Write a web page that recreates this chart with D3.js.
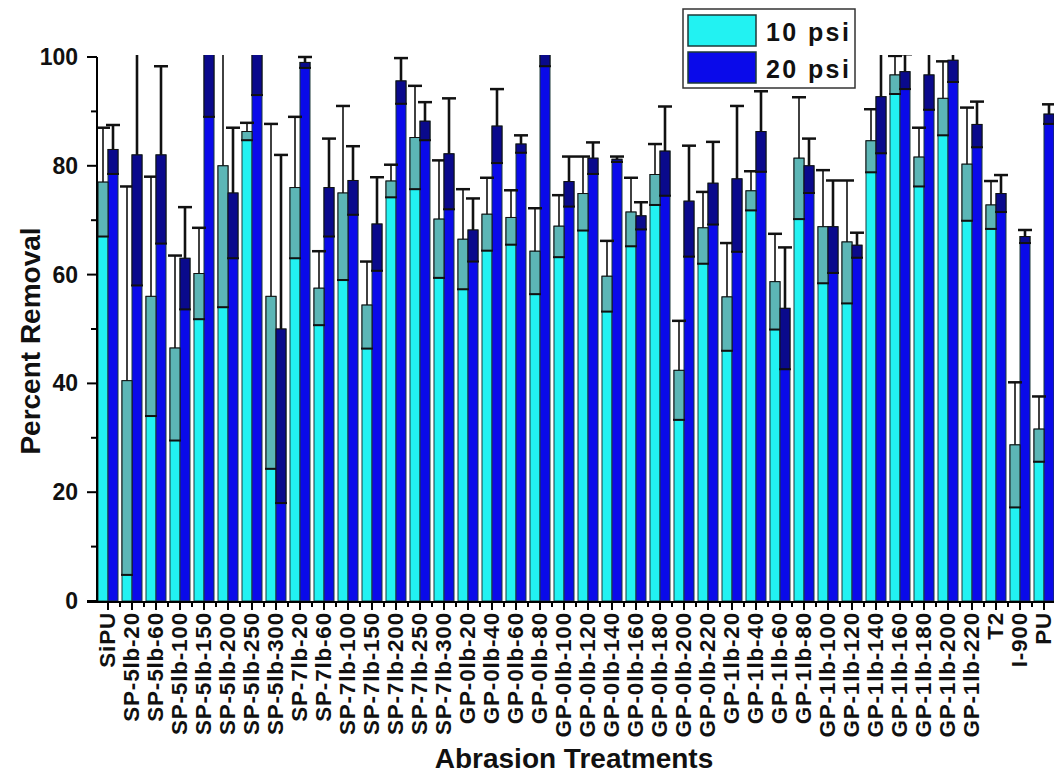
<!DOCTYPE html>
<html>
<head>
<meta charset="utf-8">
<script src="https://cdn.jsdelivr.net/npm/d3@7"></script>
<style>
  body { margin: 0; background: #fff; }
  text { font-family: "Liberation Sans", Arial, sans-serif; font-weight: bold; fill: #111; }
</style>
</head>
<body>
<svg id="chart"></svg>
<script>
// Size of the page
const width = 1054;
const height = 776;

// Data
const categories = ["SiPU", "SP-5lb-20", "SP-5lb-60", "SP-5lb-100", "SP-5lb-150", "SP-5lb-200", "SP-5lb-250", "SP-5lb-300",
    "SP-7lb-20", "SP-7lb-60", "SP-7lb-100", "SP-7lb-150", "SP-7lb-200", "SP-7lb-250", "SP-7lb-300",
    "GP-0lb-20", "GP-0lb-40", "GP-0lb-60", "GP-0lb-80", "GP-0lb-100", "GP-0lb-120", "GP-0lb-140", "GP-0lb-160",
    "GP-0lb-180", "GP-0lb-200", "GP-0lb-220",
    "GP-1lb-20", "GP-1lb-40", "GP-1lb-60", "GP-1lb-80", "GP-1lb-100", "GP-1lb-120", "GP-1lb-140", "GP-1lb-160",
    "GP-1lb-180", "GP-1lb-200", "GP-1lb-220", "T2", "I-900", "PU"];
const series = ["10 psi", "20 psi"];
const psi10 = [77, 40.5, 56, 46.5, 60.2, 80, 86.3, 56, 76, 57.5, 75, 54.4, 77.2, 85.2, 70.2, 66.5, 71.1, 70.5, 64.3, 68.9,
    74.9, 59.7, 71.5, 78.4, 42.4, 68.6, 55.9, 75.4, 58.7, 81.4, 68.8, 66, 84.6, 96.7, 81.6, 92.4, 80.3, 72.8, 28.7, 31.6];
const err10 = [10, 35.7, 22, 17, 8.4, 26, 1.6, 31.7, 13, 6.8, 16, 8, 3, 9.5, 10.8, 9.2, 6.7, 5, 7.9, 5.7,
    6.8, 6.5, 6.3, 5.6, 9.1, 6.6, 9.9, 3.6, 8.8, 11.2, 10.4, 11.3, 5.8, 3.5, 5.4, 6.8, 10.4, 4.4, 11.5, 6];
const psi20 = [83, 82, 82, 63, 102, 75, 101, 50, 99, 76, 77.3, 69.3, 95.6, 88.2, 82.2, 68.2, 87.3, 84, 100.5, 77.1,
    81.4, 81.2, 70.8, 82.7, 73.5, 76.8, 77.6, 86.3, 53.8, 80, 68.8, 65.4, 92.7, 97.3, 96.7, 99.4, 87.6, 74.9, 67, 89.5];
const err20 = [4.5, 24, 16.3, 9.4, 13, 12, 8, 32, 1, 9, 6.3, 8.6, 4.2, 3.5, 10.2, 5.8, 6.8, 1.6, 2.2, 4.6,
    2.9, 0.5, 2.5, 8.2, 10.2, 7.6, 13.4, 7.4, 11.2, 5, 8.5, 2.3, 10.4, 3.2, 6.4, 4, 4.2, 3.4, 1.2, 1.8];
const yTicks = [0, 20, 40, 60, 80, 100];

// Colours per series: bar fill, shaded error part, error line
const fills = { "10 psi": "#22f2f2", "20 psi": "#0a0aea" };
const shades = { "10 psi": "#5cb6b6", "20 psi": "#0a0a8c" };
const lineW = { "10 psi": 1.6, "20 psi": 2.6 };

// Plot area
const plotLeft = 97, plotRight = 1057, plotTop = 57, plotBottom = 601;

const svg = d3.select("#chart")
    .attr("width", width)
    .attr("height", height);

const x = d3.scaleBand()
    .domain(categories)
    .range([plotLeft - 1, plotRight - 1])
    .padding(0);

const xSub = d3.scaleBand()
    .domain(series)
    .range([0, x.bandwidth()])
    .paddingInner(0)
    .paddingOuter(0.2);

const y = d3.scaleLinear()
    .domain([0, 100])
    .range([plotBottom, plotTop]);

// Rows for the bars
const rows = [];
categories.forEach((c, i) => {
    rows.push({ cat: c, s: "10 psi", v: psi10[i], e: err10[i] });
    rows.push({ cat: c, s: "20 psi", v: psi20[i], e: err20[i] });
});

// Clip everything above 100
svg.append("clipPath")
    .attr("id", "plot-clip")
    .append("rect")
    .attr("x", 0)
    .attr("y", plotTop - 2)
    .attr("width", width)
    .attr("height", plotBottom - plotTop + 2);

const plot = svg.append("g").attr("clip-path", "url(#plot-clip)");

// Bars
plot.selectAll("rect.bar")
    .data(rows)
    .enter().append("rect")
    .attr("class", "bar")
    .attr("x", d => x(d.cat) + xSub(d.s))
    .attr("width", xSub.bandwidth())
    .attr("y", d => y(d.v))
    .attr("height", d => y(0) - y(d.v))
    .attr("fill", d => fills[d.s])
    .attr("stroke", "#1d3a3a")
    .attr("stroke-width", 1);

// Error bars, drawn in category order so neighbours overlap like the original
const eb = plot.selectAll("g.err")
    .data(rows)
    .enter().append("g")
    .attr("class", "err");

// shaded lower part inside the bar
eb.append("rect")
    .attr("x", d => x(d.cat) + xSub(d.s))
    .attr("width", xSub.bandwidth())
    .attr("y", d => y(d.v))
    .attr("height", d => y(d.v - d.e) - y(d.v))
    .attr("fill", d => shades[d.s])
    .attr("stroke", "#111")
    .attr("stroke-width", 1);

// lower cap
eb.append("line")
    .attr("x1", d => x(d.cat) + xSub(d.s) - 1)
    .attr("x2", d => x(d.cat) + xSub(d.s) + xSub.bandwidth() + 1)
    .attr("y1", d => y(d.v - d.e))
    .attr("y2", d => y(d.v - d.e))
    .attr("stroke", "#111")
    .attr("stroke-width", 2);

// upper whisker
eb.append("line")
    .attr("x1", d => x(d.cat) + xSub(d.s) + xSub.bandwidth() / 2)
    .attr("x2", d => x(d.cat) + xSub(d.s) + xSub.bandwidth() / 2)
    .attr("y1", d => y(d.v))
    .attr("y2", d => y(d.v + d.e))
    .attr("stroke", "#111")
    .attr("stroke-width", d => lineW[d.s]);

// upper cap
eb.append("line")
    .attr("x1", d => x(d.cat) + xSub(d.s) - 2)
    .attr("x2", d => x(d.cat) + xSub(d.s) + xSub.bandwidth() + 2)
    .attr("y1", d => y(d.v + d.e))
    .attr("y2", d => y(d.v + d.e))
    .attr("stroke", "#111")
    .attr("stroke-width", 2.5);

// Y axis
const yAxis = svg.append("g");
yAxis.append("line")
    .attr("x1", plotLeft).attr("x2", plotLeft)
    .attr("y1", plotTop).attr("y2", plotBottom + 1)
    .attr("stroke", "#000").attr("stroke-width", 2);

yAxis.selectAll("line.major")
    .data(yTicks)
    .enter().append("line")
    .attr("x1", plotLeft - 10).attr("x2", plotLeft)
    .attr("y1", d => y(d)).attr("y2", d => y(d))
    .attr("stroke", "#000").attr("stroke-width", 2);

yAxis.selectAll("line.minor")
    .data(d3.range(10, 100, 20))
    .enter().append("line")
    .attr("x1", plotLeft - 6).attr("x2", plotLeft)
    .attr("y1", d => y(d)).attr("y2", d => y(d))
    .attr("stroke", "#000").attr("stroke-width", 2);

yAxis.selectAll("text")
    .data(yTicks)
    .enter().append("text")
    .attr("x", plotLeft - 19)
    .attr("y", d => y(d) + 8)
    .attr("text-anchor", "end")
    .style("font-size", "23px")
    .text(d => d);

// X axis
const xAxis = svg.append("g");
xAxis.append("line")
    .attr("x1", plotLeft - 10).attr("x2", width)
    .attr("y1", plotBottom + 1).attr("y2", plotBottom + 1)
    .attr("stroke", "#000").attr("stroke-width", 2);

xAxis.selectAll("line.major")
    .data(categories)
    .enter().append("line")
    .attr("x1", d => x(d) + x.bandwidth() / 2)
    .attr("x2", d => x(d) + x.bandwidth() / 2)
    .attr("y1", plotBottom + 1).attr("y2", plotBottom + 9)
    .attr("stroke", "#000").attr("stroke-width", 2);

xAxis.selectAll("line.minor")
    .data(categories)
    .enter().append("line")
    .attr("x1", d => x(d) + x.bandwidth())
    .attr("x2", d => x(d) + x.bandwidth())
    .attr("y1", plotBottom + 1).attr("y2", plotBottom + 6)
    .attr("stroke", "#000").attr("stroke-width", 2);

xAxis.selectAll("text")
    .data(categories)
    .enter().append("text")
    .attr("transform", d => `translate(${x(d) + x.bandwidth() / 2 + 6.5},${plotBottom + 11}) rotate(-90)`)
    .attr("text-anchor", "end")
    .style("font-size", "22.5px")
    .style("letter-spacing", "0.8px")
    .text(d => d);

// Axis titles
svg.append("text")
    .attr("transform", `translate(40,${(plotTop + plotBottom) / 2 + 12}) rotate(-90)`)
    .attr("text-anchor", "middle")
    .style("font-size", "28px")
    .text("Percent Removal");

svg.append("text")
    .attr("x", 574)
    .attr("y", 768)
    .attr("text-anchor", "middle")
    .style("font-size", "28px")
    .text("Abrasion Treatments");

// Legend
const legend = svg.append("g");
legend.append("rect")
    .attr("x", 683).attr("y", 9)
    .attr("width", 172).attr("height", 79)
    .attr("fill", "#fff")
    .attr("stroke", "#333").attr("stroke-width", 1.5);

const items = legend.selectAll("g.item")
    .data(series)
    .enter().append("g")
    .attr("transform", (d, i) => `translate(688,${15 + i * 37})`);

items.append("rect")
    .attr("width", 68).attr("height", 31)
    .attr("fill", d => fills[d])
    .attr("stroke", "#1d3a3a").attr("stroke-width", 1.5);

items.append("text")
    .attr("x", 78)
    .attr("y", 26)
    .style("font-size", "25px")
    .style("letter-spacing", "2.4px")
    .text(d => d);
</script>
</body>
</html>
